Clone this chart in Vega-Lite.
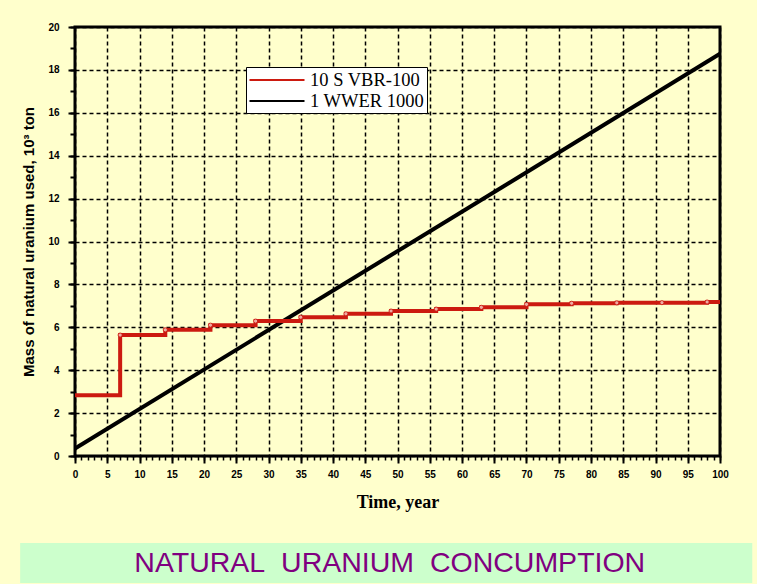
{
  "$schema": "https://vega.github.io/schema/vega-lite/v6.json",
  "width": 645,
  "height": 429,
  "autosize": {"type": "none"},
  "padding": {"left": 75, "top": 27, "right": 37, "bottom": 128},
  "background": "#FFFFCC",
  "config": {
    "view": {"stroke": "black", "strokeWidth": 3, "fill": "#FFFFCC"},
    "legend": {"labelFont": "Liberation Serif"}
  },
  "datasets": {
    "lines": [
      {"t": 0, "m": 2.83, "s": "10 S VBR-100"},
      {"t": 7, "m": 5.64, "s": "10 S VBR-100"},
      {"t": 14, "m": 5.88, "s": "10 S VBR-100"},
      {"t": 21, "m": 6.1, "s": "10 S VBR-100"},
      {"t": 28, "m": 6.29, "s": "10 S VBR-100"},
      {"t": 35, "m": 6.47, "s": "10 S VBR-100"},
      {"t": 42, "m": 6.63, "s": "10 S VBR-100"},
      {"t": 49, "m": 6.76, "s": "10 S VBR-100"},
      {"t": 56, "m": 6.85, "s": "10 S VBR-100"},
      {"t": 63, "m": 6.93, "s": "10 S VBR-100"},
      {"t": 70, "m": 7.07, "s": "10 S VBR-100"},
      {"t": 77, "m": 7.12, "s": "10 S VBR-100"},
      {"t": 84, "m": 7.14, "s": "10 S VBR-100"},
      {"t": 91, "m": 7.15, "s": "10 S VBR-100"},
      {"t": 98, "m": 7.18, "s": "10 S VBR-100"},
      {"t": 100, "m": 7.18, "s": "10 S VBR-100"},
      {"t": 0, "m": 0.35, "s": "1 WWER 1000"},
      {"t": 100, "m": 18.75, "s": "1 WWER 1000"}
    ]
  },
  "layer": [
    {
      "data": {"values": [{"x1": -8.5, "x2": 105, "y1": -4.06, "y2": -5.92}]},
      "mark": {"type": "rect", "fill": "#CCFFCC", "clip": false},
      "encoding": {
        "x": {"field": "x1", "type": "quantitative", "scale": {"domain": [0, 100], "nice": false}, "axis": null},
        "x2": {"field": "x2"},
        "y": {"field": "y1", "type": "quantitative", "scale": {"domain": [0, 20], "nice": false}, "axis": null},
        "y2": {"field": "y2"}
      }
    },
    {
      "data": {"values": [{"x": 48.8, "y": -4.99, "label": "NATURAL\u00a0 URANIUM\u00a0 CONCUMPTION"}]},
      "mark": {"type": "text", "font": "Liberation Sans", "fontSize": 28.5, "color": "#800080", "align": "center", "baseline": "middle", "clip": false},
      "encoding": {
        "x": {"field": "x", "type": "quantitative", "scale": {"domain": [0, 100], "nice": false}, "axis": null},
        "y": {"field": "y", "type": "quantitative", "scale": {"domain": [0, 20], "nice": false}, "axis": null},
        "text": {"field": "label"}
      }
    },
    {
      "data": {"name": "lines"},
      "transform": [{"filter": "datum.s === '1 WWER 1000'"}],
      "mark": {"type": "line", "strokeWidth": 4},
      "encoding": {
        "x": {
          "field": "t", "type": "quantitative",
          "scale": {"domain": [0, 100], "nice": false},
          "axis": {
            "orient": "bottom",
            "values": [0, 5, 10, 15, 20, 25, 30, 35, 40, 45, 50, 55, 60, 65, 70, 75, 80, 85, 90, 95, 100],
            "grid": true, "gridColor": "black", "gridDash": [4, 3], "gridWidth": 1.5, "gridOpacity": 1,
            "domain": false,
            "tickColor": "black", "tickWidth": 2, "tickSize": 7,
            "labelFont": "Liberation Sans", "labelFontWeight": "bold", "labelFontSize": 10, "labelColor": "black", "labelPadding": 6, "labelFlush": false,
            "title": "Time, year", "titleFont": "Liberation Serif", "titleFontSize": 18, "titleFontWeight": "bold", "titleColor": "black", "titlePadding": 14
          }
        },
        "y": {
          "field": "m", "type": "quantitative",
          "scale": {"domain": [0, 20], "nice": false},
          "axis": {
            "orient": "left",
            "values": [0, 2, 4, 6, 8, 10, 12, 14, 16, 18, 20],
            "grid": true, "gridColor": "black", "gridDash": [4, 3], "gridWidth": 1.5, "gridOpacity": 1,
            "domain": false,
            "tickColor": "black", "tickWidth": 2, "tickSize": 7,
            "labelFont": "Liberation Sans", "labelFontWeight": "bold", "labelFontSize": 10, "labelColor": "black", "labelPadding": 9, "labelFlush": false,
            "title": "Mass of natural uranium used, 10³ ton", "titleFont": "Liberation Sans", "titleFontSize": 15, "titleFontWeight": "bold", "titleColor": "black", "titlePadding": 11
          }
        },
        "color": {
          "field": "s", "type": "nominal",
          "scale": {"domain": ["10 S VBR-100", "1 WWER 1000"], "range": ["#CC1A10", "#000000"]},
          "legend": {
            "orient": "none", "legendX": 171, "legendY": 40,
            "fillColor": "white", "strokeColor": "black", "padding": 2,
            "symbolType": "M-2.75,0H2.75", "symbolSize": 400, "symbolStrokeWidth": 2, "symbolOffset": 18,
            "labelFont": "Liberation Serif", "labelFontSize": 18.5, "labelColor": "black", "labelOffset": 22,
            "rowPadding": 0, "title": null
          }
        }
      }
    },
    {
      "data": {"name": "lines"},
      "transform": [{"filter": "datum.s === '10 S VBR-100'"}],
      "mark": {"type": "line", "interpolate": "step-after", "strokeWidth": 4},
      "encoding": {
        "x": {
          "field": "t", "type": "quantitative",
          "scale": {"domain": [0, 100], "nice": false},
          "axis": {
            "orient": "bottom",
            "values": [0, 1, 2, 3, 4, 5, 6, 7, 8, 9, 10, 11, 12, 13, 14, 15, 16, 17, 18, 19, 20, 21, 22, 23, 24, 25, 26, 27, 28, 29, 30, 31, 32, 33, 34, 35, 36, 37, 38, 39, 40, 41, 42, 43, 44, 45, 46, 47, 48, 49, 50, 51, 52, 53, 54, 55, 56, 57, 58, 59, 60, 61, 62, 63, 64, 65, 66, 67, 68, 69, 70, 71, 72, 73, 74, 75, 76, 77, 78, 79, 80, 81, 82, 83, 84, 85, 86, 87, 88, 89, 90, 91, 92, 93, 94, 95, 96, 97, 98, 99, 100],
            "grid": false, "labels": false, "domain": false, "title": null,
            "tickColor": "black", "tickWidth": 1.5, "tickSize": 4
          }
        },
        "y": {
          "field": "m", "type": "quantitative",
          "scale": {"domain": [0, 20], "nice": false},
          "axis": {
            "orient": "left",
            "values": [0, 1, 2, 3, 4, 5, 6, 7, 8, 9, 10, 11, 12, 13, 14, 15, 16, 17, 18, 19, 20],
            "grid": false, "labels": false, "domain": false, "title": null,
            "tickColor": "black", "tickWidth": 2, "tickSize": 5
          }
        },
        "color": {"field": "s", "type": "nominal", "scale": {"domain": ["10 S VBR-100", "1 WWER 1000"], "range": ["#CC1A10", "#000000"]}}
      }
    },
    {
      "data": {"name": "lines"},
      "transform": [{"filter": "datum.s === '10 S VBR-100' && datum.t > 0 && datum.t < 100"}],
      "mark": {"type": "point", "shape": "circle", "size": 18, "filled": true, "fill": "#FFE8E0", "stroke": "#CC1A10", "strokeWidth": 1},
      "encoding": {
        "x": {"field": "t", "type": "quantitative", "scale": {"domain": [0, 100], "nice": false}, "axis": null},
        "y": {"field": "m", "type": "quantitative", "scale": {"domain": [0, 20], "nice": false}, "axis": null}
      }
    }
  ],
  "resolve": {"axis": {"x": "independent", "y": "independent"}}
}
